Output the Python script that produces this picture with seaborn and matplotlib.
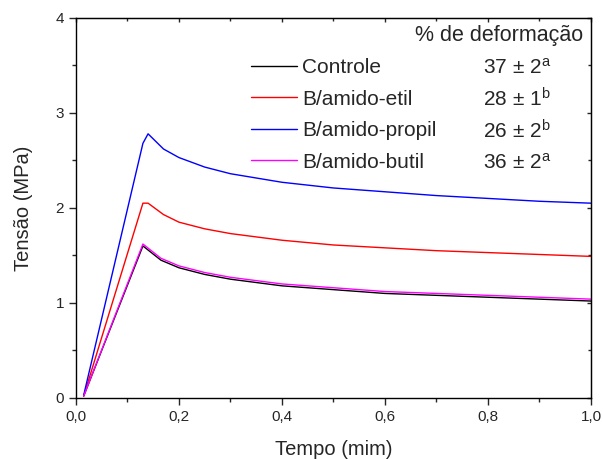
import seaborn as sns
import matplotlib.pyplot as plt
import matplotlib.ticker as mticker
import pandas as pd

sns.set_style("ticks")
plt.rcParams['font.family'] = ['Liberation Sans', 'DejaVu Sans']
plt.rcParams['mathtext.default'] = 'regular'

# readings (tempo in min, tensao in MPa)
tempo_controle = [0.015, 0.13, 0.165, 0.2, 0.25, 0.3, 0.4, 0.5, 0.6, 0.7, 0.8, 0.9, 1.0]
tensao_controle = [0.02, 1.60, 1.45, 1.37, 1.30, 1.25, 1.18, 1.14, 1.10, 1.08, 1.06, 1.04, 1.02]

tempo_etil = [0.015, 0.13, 0.14, 0.17, 0.2, 0.25, 0.3, 0.4, 0.5, 0.6, 0.7, 0.8, 0.9, 1.0]
tensao_etil = [0.02, 2.05, 2.05, 1.93, 1.85, 1.78, 1.73, 1.66, 1.61, 1.58, 1.55, 1.53, 1.51, 1.49]

tempo_propil = [0.015, 0.13, 0.14, 0.17, 0.2, 0.25, 0.3, 0.4, 0.5, 0.6, 0.7, 0.8, 0.9, 1.0]
tensao_propil = [0.03, 2.68, 2.78, 2.62, 2.53, 2.43, 2.36, 2.27, 2.21, 2.17, 2.13, 2.10, 2.07, 2.05]

tempo_butil = [0.015, 0.13, 0.165, 0.2, 0.25, 0.3, 0.4, 0.5, 0.6, 0.7, 0.8, 0.9, 1.0]
tensao_butil = [0.02, 1.62, 1.47, 1.39, 1.32, 1.27, 1.20, 1.16, 1.12, 1.10, 1.08, 1.06, 1.04]

amostras = ["Controle", "B/amido-etil", "B/amido-propil", "B/amido-butil"]
cores = ["black", "red", "blue", "magenta"]
deformacao = ["37 ± 2$^{a}$", "28 ± 1$^{b}$", "26 ± 2$^{b}$", "36 ± 2$^{a}$"]

frames = []
for nome, t, s in zip(amostras,
                      [tempo_controle, tempo_etil, tempo_propil, tempo_butil],
                      [tensao_controle, tensao_etil, tensao_propil, tensao_butil]):
    frames.append(pd.DataFrame({"tempo": t, "tensao": s, "amostra": nome}))
df = pd.concat(frames, ignore_index=True)

fig = plt.figure(figsize=(6.03, 4.59), dpi=100)
ax = fig.add_axes([0.126, 0.133, 0.854, 0.828])

sns.lineplot(data=df, x="tempo", y="tensao", hue="amostra", hue_order=amostras,
             palette=dict(zip(amostras, cores)), linewidth=1, ax=ax, sort=False,
             estimator=None)

ax.set_xlim(0, 1.0)
ax.set_ylim(0, 4)
ax.xaxis.set_major_locator(mticker.MultipleLocator(0.2))
ax.xaxis.set_minor_locator(mticker.MultipleLocator(0.1))
ax.yaxis.set_major_locator(mticker.MultipleLocator(1))
ax.yaxis.set_minor_locator(mticker.MultipleLocator(0.5))
ax.xaxis.set_major_formatter(mticker.FuncFormatter(lambda v, p: f"{v:.1f}".replace(".", ",")))
ax.yaxis.set_major_formatter(mticker.FuncFormatter(lambda v, p: f"{v:.0f}"))
ax.tick_params(which="major", length=5, width=1, labelsize=11, direction="out")
ax.tick_params(which="minor", length=3, width=1, direction="out")
for sp in ax.spines.values():
    sp.set_linewidth(1)
    sp.set_color("black")

# mirrored inward ticks on top and right
sec_x = ax.secondary_xaxis("top")
sec_x.xaxis.set_major_locator(mticker.MultipleLocator(0.2))
sec_x.xaxis.set_minor_locator(mticker.MultipleLocator(0.1))
sec_x.tick_params(which="both", direction="in", labeltop=False, width=1)
sec_x.tick_params(which="major", length=3)
sec_x.tick_params(which="minor", length=2)
sec_y = ax.secondary_yaxis("right")
sec_y.yaxis.set_major_locator(mticker.MultipleLocator(1))
sec_y.yaxis.set_minor_locator(mticker.MultipleLocator(0.5))
sec_y.tick_params(which="both", direction="in", labelright=False, width=1)
sec_y.tick_params(which="major", length=3)
sec_y.tick_params(which="minor", length=2)

ax.set_xlabel("Tempo (mim)", fontsize=14.5, labelpad=12)
ax.set_ylabel("Tensão (MPa)", fontsize=14.5, labelpad=16)

handles, labels = ax.get_legend_handles_labels()
ax.legend(handles, labels, loc="upper left", bbox_to_anchor=(0.339, 0.894),
          frameon=False, fontsize=15, handlelength=2.25, handletextpad=0.22,
          labelspacing=0.6, borderpad=0, borderaxespad=0)

ax.text(0.984, 0.955, "% de deformação", transform=ax.transAxes, fontsize=15.5,
        ha="right", va="center")
for i, val in enumerate(deformacao):
    ax.text(0.79, 0.869 - i * 0.083, val, transform=ax.transAxes, fontsize=15,
            ha="left", va="center")

fig.savefig("out.png", dpi=100)
